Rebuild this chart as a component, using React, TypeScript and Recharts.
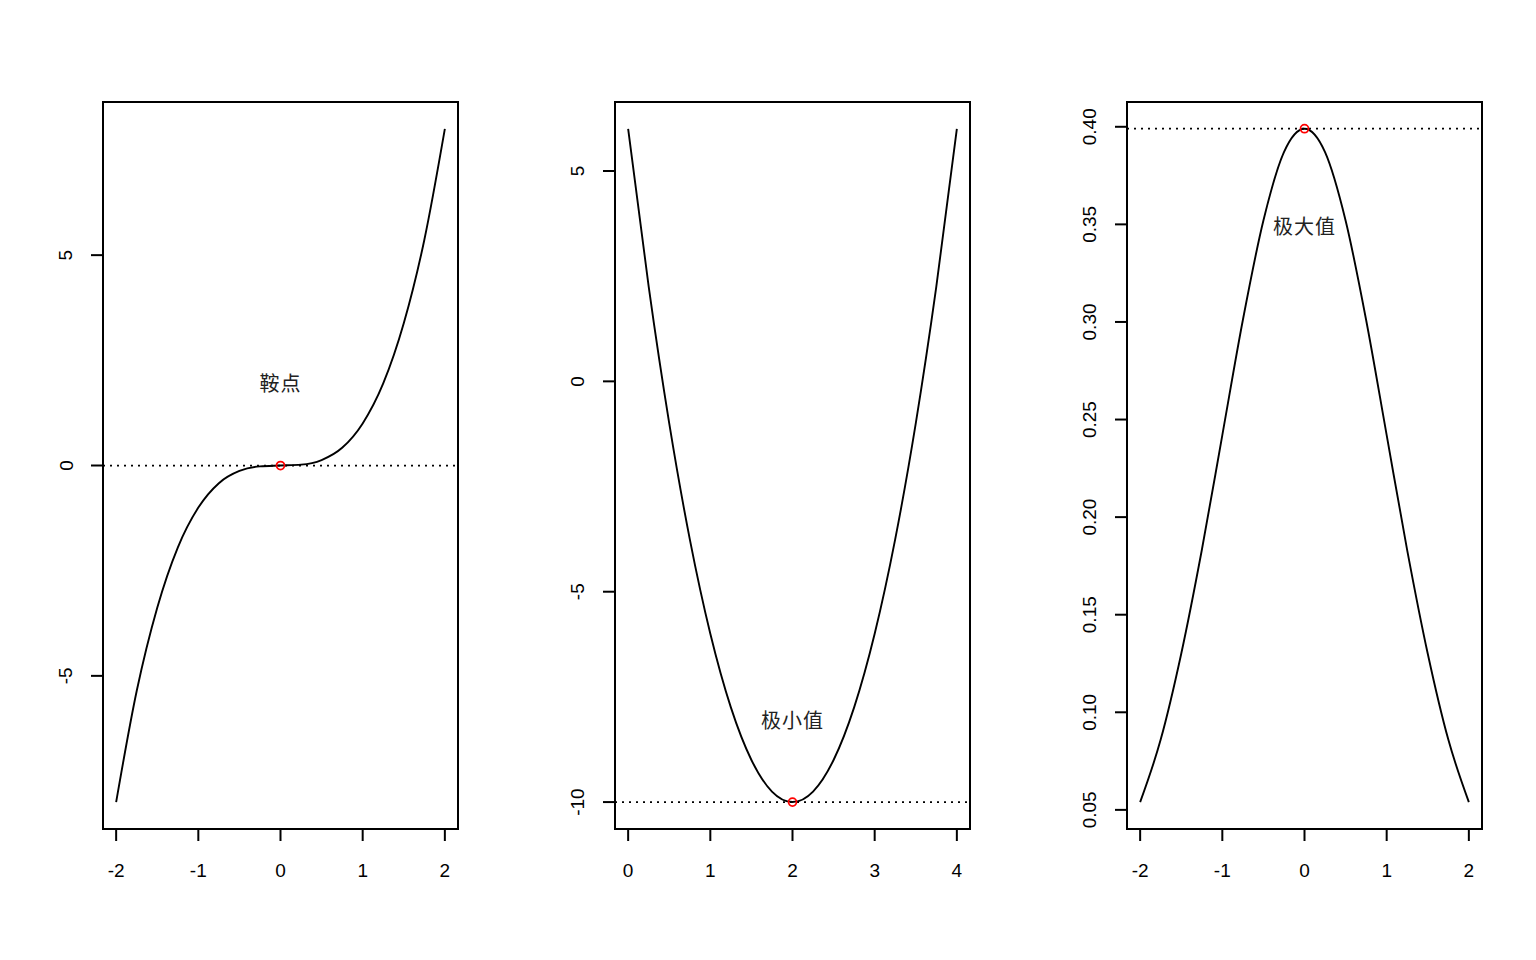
import React from 'react';
import {
  LineChart,
  Line,
  XAxis,
  YAxis,
  ReferenceLine,
  ReferenceDot,
  ReferenceArea,
} from 'recharts';

// values
const cubicX = [-2, -1.75, -1.5, -1.25, -1, -0.75, -0.5, -0.25, 0, 0.25, 0.5, 0.75, 1, 1.25, 1.5, 1.75, 2];
const cubicY = [-8, -5.36, -3.38, -1.95, -1, -0.42, -0.13, -0.02, 0, 0.02, 0.13, 0.42, 1, 1.95, 3.38, 5.36, 8];

const parabolaX = [0, 0.25, 0.5, 0.75, 1, 1.25, 1.5, 1.75, 2, 2.25, 2.5, 2.75, 3, 3.25, 3.5, 3.75, 4];
const parabolaY = [6, 2.25, -1, -3.75, -6, -7.75, -9, -9.75, -10, -9.75, -9, -7.75, -6, -3.75, -1, 2.25, 6];

const normalX = [-2, -1.75, -1.5, -1.25, -1, -0.75, -0.5, -0.25, 0, 0.25, 0.5, 0.75, 1, 1.25, 1.5, 1.75, 2];
const normalY = [0.054, 0.086, 0.13, 0.183, 0.242, 0.301, 0.352, 0.387, 0.399, 0.387, 0.352, 0.301, 0.242, 0.183, 0.13, 0.086, 0.054];

const xTicksSym = [-2, -1, 0, 1, 2];
const xTicksPos = [0, 1, 2, 3, 4];
const cubicTicks = [-5, 0, 5];
const parabolaTicks = [-10, -5, 0, 5];
const normalTicks = [0.05, 0.1, 0.15, 0.2, 0.25, 0.3, 0.35, 0.4];

const FONT = '"Liberation Sans", Arial, sans-serif';
const CJK = '"Noto Sans CJK SC", sans-serif';

const XTick = ({ x, y, payload }: any) => (
  <text x={x} y={y + 29} textAnchor="middle" dominantBaseline="central" fontSize={19} fontFamily={FONT} fill="#000">
    {String(payload.value)}
  </text>
);

const makeYTick = (digits: number) => ({ x, y, payload }: any) => {
  const cx = x - 25;
  return (
    <text
      x={cx}
      y={y}
      transform={`rotate(-90, ${cx}, ${y})`}
      textAnchor="middle"
      dominantBaseline="central"
      fontSize={19}
      fontFamily={FONT}
      fill="#000"
    >
      {digits > 0 ? Number(payload.value).toFixed(digits) : String(payload.value)}
    </text>
  );
};

interface PanelProps {
  xs: number[];
  ys: number[];
  xDomain: [number, number];
  yDomain: [number, number];
  xTicks: number[];
  yTicks: number[];
  digits: number;
  ext: { x: number; y: number };
  label: string;
  labelAt: { x: number; y: number };
  left: number;
}

function Panel({ xs, ys, xDomain, yDomain, xTicks, yTicks, digits, ext, label, labelAt, left }: PanelProps) {
  const data = xs.map((x, i) => ({ x, y: ys[i] }));
  return (
    <div style={{ position: 'absolute', left, top: 0 }}>
      <LineChart width={512} height={960} data={data} margin={{ top: 102, right: 54, bottom: 71, left: 43 }}>
        <XAxis
          type="number"
          dataKey="x"
          domain={xDomain}
          allowDataOverflow
          ticks={xTicks}
          interval={0}
          height={60}
          axisLine={false}
          tickSize={12}
          tickMargin={0}
          tickLine={{ stroke: '#000', strokeWidth: 2 }}
          tick={<XTick />}
        />
        <YAxis
          type="number"
          domain={yDomain}
          allowDataOverflow
          ticks={yTicks}
          interval={0}
          width={60}
          axisLine={false}
          tickSize={12}
          tickMargin={0}
          tickLine={{ stroke: '#000', strokeWidth: 2 }}
          tick={makeYTick(digits)}
        />
        <ReferenceArea
          x1={xDomain[0]}
          x2={xDomain[1]}
          y1={yDomain[0]}
          y2={yDomain[1]}
          fill="none"
          fillOpacity={0}
          stroke="#000"
          strokeWidth={2}
          ifOverflow="visible"
        />
        <ReferenceLine y={ext.y} stroke="#000" strokeWidth={1.75} strokeDasharray="2 5" />
        <Line
          type="monotone"
          dataKey="y"
          stroke="#000"
          strokeWidth={1.9}
          dot={false}
          isAnimationActive={false}
        />
        <ReferenceDot x={ext.x} y={ext.y} r={4} fill="none" stroke="#ff0000" strokeWidth={1.75} />
        <ReferenceDot
          x={labelAt.x}
          y={labelAt.y}
          r={0}
          fill="none"
          stroke="none"
          label={{ value: label, position: 'center', fontSize: 20, fill: '#222', fontFamily: CJK, letterSpacing: 1, dy: 3 }}
        />
      </LineChart>
    </div>
  );
}

export default function App() {
  return (
    <div style={{ position: 'absolute', left: 0, top: 0, width: 1536, height: 960, background: '#fff' }}>
      <Panel
        xs={cubicX}
        ys={cubicY}
        xDomain={[-2.16, 2.16]}
        yDomain={[-8.64, 8.64]}
        xTicks={xTicksSym}
        yTicks={cubicTicks}
        digits={0}
        ext={{ x: 0, y: 0 }}
        label="鞍点"
        labelAt={{ x: 0, y: 2 }}
        left={0}
      />
      <Panel
        xs={parabolaX}
        ys={parabolaY}
        xDomain={[-0.16, 4.16]}
        yDomain={[-10.64, 6.64]}
        xTicks={xTicksPos}
        yTicks={parabolaTicks}
        digits={0}
        ext={{ x: 2, y: -10 }}
        label="极小值"
        labelAt={{ x: 2, y: -8 }}
        left={512}
      />
      <Panel
        xs={normalX}
        ys={normalY}
        xDomain={[-2.16, 2.16]}
        yDomain={[0.0402, 0.4127]}
        xTicks={xTicksSym}
        yTicks={normalTicks}
        digits={2}
        ext={{ x: 0, y: 0.399 }}
        label="极大值"
        labelAt={{ x: 0, y: 0.35 }}
        left={1024}
      />
    </div>
  );
}
